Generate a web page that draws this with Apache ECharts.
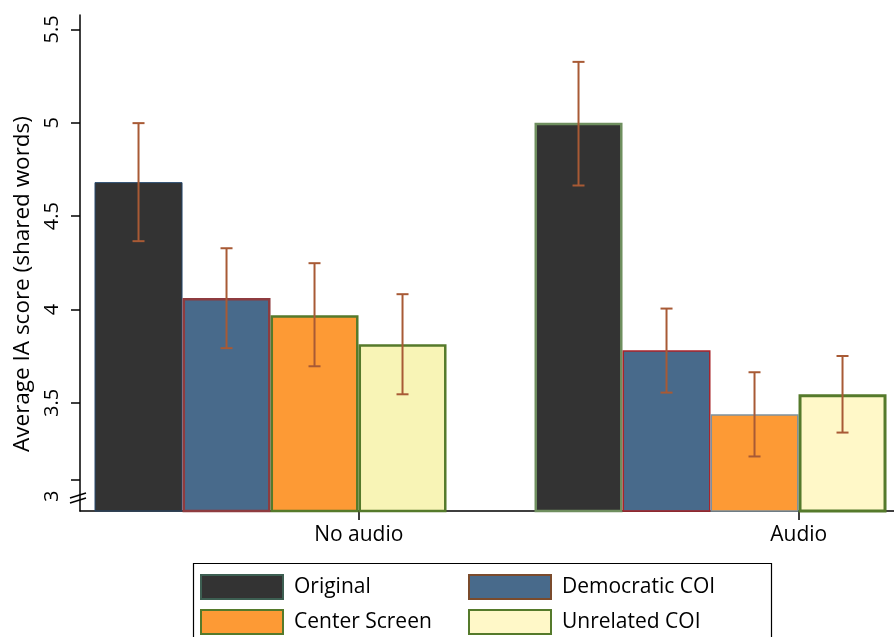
<!DOCTYPE html>
<html>
<head>
<meta charset="utf-8">
<script src="https://cdn.jsdelivr.net/npm/echarts@6/dist/echarts.min.js"></script>
<style>
  html, body { margin: 0; padding: 0; background: #fff; }
  #chart { width: 894px; height: 637px; }
</style>
</head>
<body>
<div id="chart"></div>
<script>
// ---------------- data ----------------
const groups = ['No audio', 'Audio'];
const seriesNames = ['Original', 'Democratic COI', 'Center Screen', 'Unrelated COI'];

const originalMean = [4.682, 5.000];
const originalLow  = [4.366, 4.664];
const originalHigh = [4.998, 5.326];

const democraticMean = [4.061, 3.782];
const democraticLow  = [3.793, 3.555];
const democraticHigh = [4.328, 4.005];

const centerMean = [3.969, 3.439];
const centerLow  = [3.696, 3.213];
const centerHigh = [4.248, 3.664];

const unrelatedMean = [3.814, 3.546];
const unrelatedLow  = [3.546, 3.341];
const unrelatedHigh = [4.082, 3.751];

const yTickLabels = [3, 3.5, 4, 4.5, 5, 5.5];
const yTickMarks  = [3.09, 3.5, 4, 4.5, 5, 5.5];

// ---------------- styles / layout ----------------
const FONT = "'Open Sans', 'Noto Sans', sans-serif";
const BAR_W = 88;                 // px
const LABEL_SHIFT = 0.2006;       // category label sits one bar to the right of group centre
const ERR_COLOR = '#a85a35';

const fills = ['#333333', '#486a8b', '#fd9a35', '#fff8c8'];
const legendBorders = ['#3d5f52', '#7b4b2c', '#557a2b', '#557a2b'];
// per-group overrides (group 0, group 1)
const itemStyles = [
  [{ borderColor: '#24466b', borderWidth: 1 },   { borderColor: '#6f8f5f', borderWidth: 2.5 }],
  [{ borderColor: '#8e3b3f', borderWidth: 2.5 }, { borderColor: '#a8232a', borderWidth: 1.5 }],
  [{ borderColor: '#557a2b', borderWidth: 2.5 }, { borderColor: '#7f919d', borderWidth: 1.5 }],
  [{ borderColor: '#557a2b', borderWidth: 2.5, color: '#f8f4b6' }, { borderColor: '#557a2b', borderWidth: 3 }]
];

const means = [originalMean, democraticMean, centerMean, unrelatedMean];
const lows  = [originalLow, democraticLow, centerLow, unrelatedLow];
const highs = [originalHigh, democraticHigh, centerHigh, unrelatedHigh];

const series = [];
seriesNames.forEach((name, k) => {
  series.push({
    name: name,
    type: 'bar',
    barWidth: BAR_W,
    barGap: '0%',
    itemStyle: { color: fills[k], borderColor: legendBorders[k], borderWidth: 2 },
    data: groups.map((g, i) => ({ value: [i, means[k][i]], itemStyle: itemStyles[k][i] })),
    z: 2
  });
});
seriesNames.forEach((name, k) => {
  series.push({
    type: 'custom',
    z: 4,
    silent: true,
    encode: { x: 0, y: [1, 2] },
    data: groups.map((g, i) => [i, lows[k][i], highs[k][i]]),
    renderItem: function (params, api) {
      const x = api.value(0);
      const lo = api.coord([x, api.value(1)]);
      const hi = api.coord([x, api.value(2)]);
      const px = lo[0] + (k - 1.5) * BAR_W;
      const cap = 6;
      const style = { stroke: ERR_COLOR, lineWidth: 2, fill: null };
      return {
        type: 'group',
        children: [
          { type: 'line', shape: { x1: px, y1: lo[1], x2: px, y2: hi[1] }, style: style },
          { type: 'line', shape: { x1: px - cap, y1: lo[1], x2: px + cap, y2: lo[1] }, style: style },
          { type: 'line', shape: { x1: px - cap, y1: hi[1], x2: px + cap, y2: hi[1] }, style: style }
        ]
      };
    }
  });
});

const chart = echarts.init(document.getElementById('chart'));
chart.setOption({
  animation: false,
  backgroundColor: '#ffffff',
  textStyle: { fontFamily: FONT },
  grid: { left: 80, right: 0, top: 15, bottom: 126, containLabel: false },
  xAxis: {
    type: 'value',
    min: -0.433,
    max: 1.417,
    splitLine: { show: false },
    axisLine: { show: true, onZero: false, lineStyle: { color: '#000', width: 1.5 } },
    axisTick: {
      show: true, length: 9, lineStyle: { color: '#000', width: 1.5 },
      customValues: groups.map((g, i) => i + LABEL_SHIFT)
    },
    axisLabel: {
      show: true, margin: 14, color: '#000', fontSize: 21, fontFamily: FONT,
      customValues: groups.map((g, i) => i + LABEL_SHIFT),
      formatter: function (v) { return groups[Math.round(v - LABEL_SHIFT)] || ''; }
    }
  },
  yAxis: {
    type: 'value',
    min: 2.921,
    max: 5.577,
    name: 'Average IA score (shared words)',
    nameLocation: 'middle',
    nameRotate: 90,
    nameGap: 42,
    nameTextStyle: { fontSize: 22.5, color: '#000', fontFamily: FONT, padding: [0, 42, 0, 0] },
    splitLine: { show: false },
    axisLine: { show: true, onZero: false, lineStyle: { color: '#000', width: 1.5 } },
    axisTick: {
      show: true, length: 9, lineStyle: { color: '#000', width: 1.5 },
      customValues: yTickMarks
    },
    axisLabel: {
      show: true, rotate: 90, margin: 18, color: '#000', fontSize: 20, fontFamily: FONT,
      customValues: yTickLabels,
      formatter: function (v) { return String(v); }
    }
  },
  legend: [
    {
      left: 200, top: 574, orient: 'vertical', padding: 0,
      itemWidth: 82, itemHeight: 24, itemGap: 9,
      icon: 'rect', selectedMode: false,
      data: [seriesNames[0], seriesNames[2]],
      textStyle: { fontSize: 21, color: '#000', fontFamily: FONT, padding: [0, 0, 0, 6], lineHeight: 24 }
    },
    {
      left: 468, top: 574, orient: 'vertical', padding: 0,
      itemWidth: 82, itemHeight: 24, itemGap: 9,
      icon: 'rect', selectedMode: false,
      data: [seriesNames[1], seriesNames[3]],
      textStyle: { fontSize: 21, color: '#000', fontFamily: FONT, padding: [0, 0, 0, 6], lineHeight: 24 }
    }
  ],
  graphic: [
    { type: 'rect', shape: { x: 193.5, y: 563.5, width: 578, height: 100 },
      style: { fill: null, stroke: '#000', lineWidth: 1.2 }, z: 10 },
    { type: 'line', shape: { x1: 70, y1: 498, x2: 86, y2: 493 }, style: { stroke: '#000', lineWidth: 1.5 }, z: 10 },
    { type: 'line', shape: { x1: 70, y1: 503, x2: 86, y2: 498 }, style: { stroke: '#000', lineWidth: 1.5 }, z: 10 }
  ],
  series: series
});
</script>
</body>
</html>
